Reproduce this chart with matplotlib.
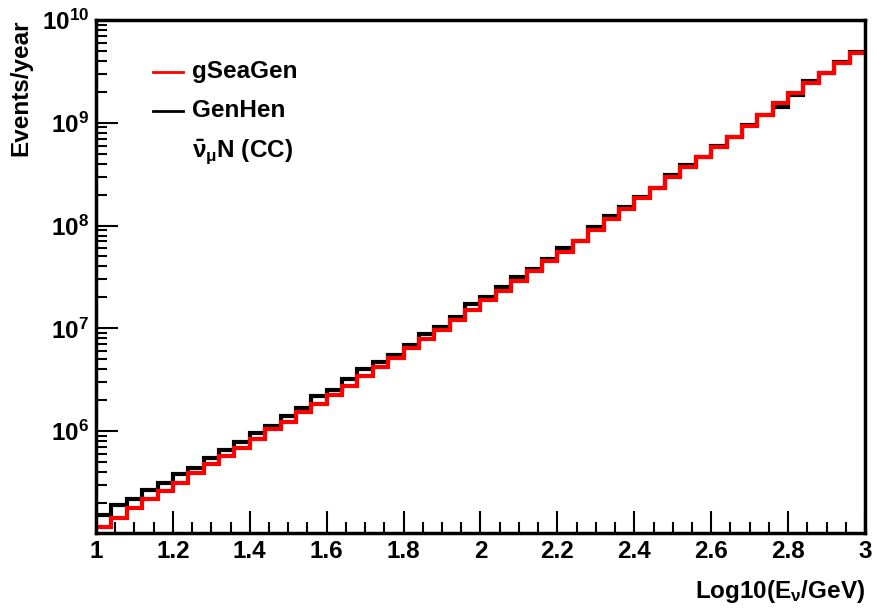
import numpy as np
import matplotlib
matplotlib.use("Agg")
import matplotlib.pyplot as plt
from matplotlib.ticker import FixedLocator, MultipleLocator, LogLocator, NullFormatter
from matplotlib.lines import Line2D

plt.rcParams['font.family'] = ['Liberation Sans', 'DejaVu Sans']
plt.rcParams['font.weight'] = 'bold'
plt.rcParams['mathtext.fontset'] = 'custom'
plt.rcParams['mathtext.rm'] = 'Liberation Sans:bold'
plt.rcParams['mathtext.bf'] = 'Liberation Sans:bold'
plt.rcParams['mathtext.it'] = 'Liberation Sans:bold'

# ---- data ----
x_min, x_max, n_bins = 1.0, 3.0, 50
gseagen = [1.16e5, 1.43e5, 1.77e5, 2.17e5, 2.61e5, 3.13e5, 3.88e5, 4.75e5, 5.69e5, 6.81e5,
           8.38e5, 1.05e6, 1.23e6, 1.52e6, 1.82e6, 2.24e6, 2.77e6, 3.46e6, 4.23e6, 5.11e6,
           6.38e6, 7.82e6, 9.62e6, 1.21e7, 1.51e7, 1.88e7, 2.32e7, 2.90e7, 3.63e7, 4.55e7,
           5.52e7, 7.06e7, 9.04e7, 1.17e8, 1.45e8, 1.84e8, 2.30e8, 2.99e8, 3.73e8, 4.67e8,
           5.85e8, 7.31e8, 9.29e8, 1.19e9, 1.55e9, 1.93e9, 2.42e9, 3.03e9, 3.84e9, 4.73e9]
genhen = [1.53e5, 1.91e5, 2.18e5, 2.67e5, 3.10e5, 3.80e5, 4.41e5, 5.51e5, 6.55e5, 7.89e5,
          9.53e5, 1.12e6, 1.41e6, 1.69e6, 2.21e6, 2.51e6, 3.19e6, 3.99e6, 4.67e6, 5.50e6,
          6.84e6, 8.75e6, 1.02e7, 1.30e7, 1.72e7, 2.03e7, 2.51e7, 3.18e7, 3.80e7, 4.69e7,
          6.00e7, 7.06e7, 9.72e7, 1.24e8, 1.52e8, 1.91e8, 2.30e8, 3.10e8, 3.88e8, 4.67e8,
          5.93e8, 7.21e8, 9.51e8, 1.19e9, 1.43e9, 1.86e9, 2.56e9, 3.06e9, 3.92e9, 4.91e9]
x_ticks = [1, 1.2, 1.4, 1.6, 1.8, 2, 2.2, 2.4, 2.6, 2.8, 3]
x_tick_labels = ['1', '1.2', '1.4', '1.6', '1.8', '2', '2.2', '2.4', '2.6', '2.8', '3']
y_ticks = [1e6, 1e7, 1e8, 1e9, 1e10]
y_tick_labels = [r'$\mathbf{10^{6}}$', r'$\mathbf{10^{7}}$', r'$\mathbf{10^{8}}$',
                 r'$\mathbf{10^{9}}$', r'$\mathbf{10^{10}}$']
labels = ['gSeaGen', 'GenHen']
y_lim = (1.02e5, 1e10)

edges = np.linspace(x_min, x_max, n_bins + 1)

FS = 17.5

fig = plt.figure(figsize=(8.78, 6.10), dpi=100)
ax = fig.add_axes([96/878, 1 - 533/610, (865-96)/878, (533-20)/610])

ax.stairs(genhen, edges, color='black', lw=3.0, baseline=None)
ax.stairs(gseagen, edges, color='#ff0000', lw=3.0, baseline=None)

ax.set_yscale('log')
ax.set_xlim(x_min, x_max)
ax.set_ylim(*y_lim)

for s in ax.spines.values():
    s.set_linewidth(2.5)

ax.xaxis.set_major_locator(FixedLocator(x_ticks))
ax.set_xticklabels(x_tick_labels)
ax.xaxis.set_minor_locator(MultipleLocator(0.05))
ax.yaxis.set_major_locator(FixedLocator(y_ticks))
ax.set_yticklabels(y_tick_labels)
ax.yaxis.set_minor_locator(LogLocator(base=10, subs=np.arange(2, 10)))
ax.yaxis.set_minor_formatter(NullFormatter())

ax.tick_params(axis='both', which='major', direction='in', length=16, width=1.5,
               labelsize=FS, top=False, right=False)
ax.tick_params(axis='both', which='minor', direction='in', length=8, width=1.5,
               top=False, right=False)
ax.tick_params(axis='x', which='major', pad=5)
ax.tick_params(axis='y', which='major', pad=5)

ax.set_xlabel(r'Log10(E$_{\mathbf{ν}}$/GeV)', fontsize=FS, fontweight='bold', loc='right')
ax.xaxis.set_label_coords(1.0, -0.088)
ax.set_ylabel('Events/year', fontsize=FS, fontweight='bold', loc='top')
ax.yaxis.set_label_coords(-0.083, 1.0)

# legend drawn inside top-left
tr = ax.transAxes
leg_rows = [(labels[0], '#ff0000'), (labels[1], 'black')]
ys = [1 - (71.7-20)/513, 1 - (111-20)/513]
for (lab, col), yy in zip(leg_rows, ys):
    ax.add_line(Line2D([0.074, 0.113], [yy, yy], transform=tr, color=col, lw=2))
    ax.text(0.125, yy, lab, transform=tr, fontsize=FS, fontweight='bold', va='center', ha='left')
ax.text(0.125, 1 - (152-20)/513, r'$\bar{\mathbf{ν}}_{\mathbf{μ}}$N (CC)', transform=tr,
        fontsize=FS, fontweight='bold', va='center', ha='left')

fig.savefig('out.png', dpi=100)
